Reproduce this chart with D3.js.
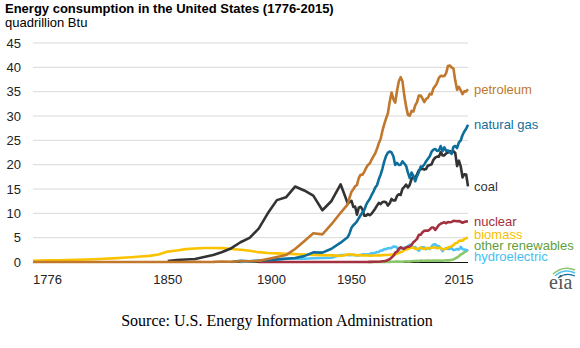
<!DOCTYPE html>
<html>
<head>
<meta charset="utf-8">
<script src="https://cdn.jsdelivr.net/npm/d3@7"></script>
<style>
  body { margin: 0; background: #fff; }
  svg { display: block; }
</style>
</head>
<body>
<svg id="chart" width="580" height="348"></svg>
<script>
// years: five-year steps to 1945, then annual from 1949
const YEARS = [
  1776, 1780, 1785, 1790, 1795, 1800, 1805, 1810, 1815, 1820, 1825, 1830, 1835, 1840, 1845,
  1850, 1855, 1860, 1865, 1870, 1875, 1880, 1885, 1890, 1895,
  1900, 1905, 1910, 1915, 1920, 1925, 1930, 1935, 1940, 1945,
  1949, 1950, 1951, 1952, 1953, 1954, 1955, 1956, 1957, 1958, 1959,
  1960, 1961, 1962, 1963, 1964, 1965, 1966, 1967, 1968, 1969,
  1970, 1971, 1972, 1973, 1974, 1975, 1976, 1977, 1978, 1979,
  1980, 1981, 1982, 1983, 1984, 1985, 1986, 1987, 1988, 1989,
  1990, 1991, 1992, 1993, 1994, 1995, 1996, 1997, 1998, 1999,
  2000, 2001, 2002, 2003, 2004, 2005, 2006, 2007, 2008, 2009,
  2010, 2011, 2012, 2013, 2014, 2015
];

const PETROLEUM = [
  0, 0, 0, 0, 0, 0, 0, 0, 0, 0, 0, 0, 0, 0, 0,
  0, 0, 0.003, 0.02, 0.011, 0.02, 0.096, 0.04, 0.156, 0.168,
  0.229, 0.61, 1.007, 1.418, 2.676, 4.28, 5.897, 5.675, 7.76, 10.11,
  11.88, 13.32, 14.43, 14.96, 15.56, 15.84, 17.26, 17.94, 17.93, 18.53, 19.32,
  19.92, 20.22, 21.0, 21.7, 22.3, 23.25, 24.4, 25.28, 26.98, 28.34,
  29.52, 30.56, 32.95, 34.84, 33.46, 32.73, 35.18, 37.12, 37.97, 37.12,
  34.2, 31.93, 30.23, 30.05, 31.05, 30.92, 32.2, 32.87, 34.22, 34.21,
  33.55, 32.85, 33.53, 33.74, 34.56, 34.44, 35.68, 36.16, 36.82, 37.84,
  38.26, 38.19, 38.22, 38.81, 40.29, 40.39, 39.96, 39.77, 37.28, 35.4,
  36.01, 35.28, 34.49, 35.09, 35.06, 35.5
];

const NATURAL_GAS = [
  null, null, null, null, null, null, null, null, null, null, null, null, null, null, null,
  null, null, null, null, null, null, null, 0, 0.257, 0.147,
  0.252, 0.372, 0.54, 0.673, 0.827, 1.212, 1.969, 1.919, 2.726, 3.973,
  5.15, 5.97, 7.05, 7.55, 7.91, 8.33, 9.0, 9.61, 10.19, 10.66, 11.72,
  12.39, 12.93, 13.73, 14.4, 15.29, 15.77, 17.0, 17.95, 19.21, 20.68,
  21.8, 22.47, 22.7, 22.51, 21.73, 19.95, 20.35, 19.93, 20.0, 20.67,
  20.24, 19.75, 18.36, 17.22, 18.39, 17.7, 16.59, 17.64, 18.45, 19.6,
  19.6, 20.03, 20.71, 21.23, 21.73, 22.67, 23.09, 23.22, 22.83, 22.91,
  23.82, 22.77, 23.56, 22.83, 22.91, 22.56, 22.22, 23.66, 23.84, 23.42,
  24.58, 24.96, 26.09, 26.81, 27.38, 28.19
];

const COAL = [
  null, null, null, null, null, null, null, null, null, null, null, null, null, null, null,
  0.219, 0.421, 0.518, 0.632, 1.048, 1.44, 2.054, 2.84, 4.062, 4.95,
  6.841, 10.001, 12.714, 13.294, 15.504, 14.706, 13.639, 10.634, 12.535, 15.972,
  11.98, 12.35, 12.55, 11.31, 11.37, 9.71, 11.17, 11.35, 10.82, 9.53, 9.52,
  9.84, 9.62, 9.91, 10.41, 10.96, 11.58, 12.14, 11.91, 12.33, 12.38,
  12.27, 11.6, 12.08, 12.97, 12.66, 12.66, 13.58, 13.92, 13.77, 15.04,
  15.42, 15.91, 15.32, 15.89, 17.07, 17.48, 17.26, 18.01, 18.85, 19.07,
  19.17, 18.99, 19.12, 19.84, 19.91, 20.09, 21.0, 21.45, 21.66, 21.62,
  22.58, 21.91, 21.9, 22.32, 22.47, 22.8, 22.45, 22.75, 22.39, 19.69,
  20.83, 19.66, 17.38, 18.04, 17.99, 15.55
];

const NUCLEAR = [
  null, null, null, null, null, null, null, null, null, null, null, null, null, null, null,
  null, null, null, null, null, null, null, null, null, null,
  0, 0, 0, 0, 0, 0, 0, 0, 0, 0,
  0, 0, 0, 0, 0, 0, 0, 0, 0, 0.002, 0.002,
  0.006, 0.02, 0.026, 0.038, 0.04, 0.043, 0.064, 0.088, 0.142, 0.154,
  0.239, 0.413, 0.584, 0.91, 1.272, 1.9, 2.111, 2.702, 3.024, 2.776,
  2.739, 3.008, 3.131, 3.203, 3.553, 4.076, 4.38, 4.754, 5.587, 5.602,
  6.104, 6.422, 6.479, 6.41, 6.694, 7.075, 7.087, 6.597, 7.068, 7.61,
  7.862, 8.029, 8.145, 7.96, 8.222, 8.161, 8.215, 8.455, 8.427, 8.356,
  8.434, 8.269, 8.062, 8.244, 8.338, 8.337
];

const BIOMASS = [
  0.249, 0.3, 0.33, 0.37, 0.41, 0.45, 0.52, 0.58, 0.67, 0.75, 0.86, 0.97, 1.12, 1.26, 1.55,
  2.14, 2.36, 2.64, 2.76, 2.89, 2.87, 2.85, 2.68, 2.52, 2.31,
  2.02, 1.84, 1.77, 1.69, 1.61, 1.53, 1.46, 1.4, 1.36, 1.26,
  1.549, 1.562, 1.535, 1.474, 1.419, 1.394, 1.424, 1.416, 1.334, 1.323, 1.353,
  1.32, 1.295, 1.3, 1.323, 1.337, 1.335, 1.369, 1.34, 1.419, 1.44,
  1.431, 1.432, 1.503, 1.529, 1.54, 1.499, 1.713, 1.838, 2.038, 2.152,
  2.476, 2.596, 2.663, 2.904, 2.971, 2.94, 2.692, 2.71, 2.742, 3.032,
  2.735, 2.681, 2.846, 2.771, 2.85, 2.93, 2.998, 2.988, 2.835, 2.886,
  2.907, 2.606, 2.628, 2.735, 2.983, 3.104, 3.213, 3.474, 3.849, 3.908,
  4.332, 4.43, 4.375, 4.718, 4.928, 4.983
];

const OTHER_RENEWABLES = [
  null, null, null, null, null, null, null, null, null, null, null, null, null, null, null,
  null, null, null, null, null, null, null, null, null, null,
  null, null, null, null, null, null, null, null, null, null,
  null, null, null, null, null, null, null, null, null, null, null,
  0.001, 0.002, 0.002, 0.003, 0.004, 0.004, 0.004, 0.007, 0.009, 0.013,
  0.011, 0.012, 0.031, 0.043, 0.053, 0.07, 0.078, 0.077, 0.064, 0.084,
  0.11, 0.123, 0.105, 0.129, 0.165, 0.198, 0.219, 0.229, 0.217, 0.317,
  0.259, 0.268, 0.277, 0.29, 0.287, 0.255, 0.278, 0.287, 0.278, 0.297,
  0.284, 0.266, 0.318, 0.328, 0.332, 0.359, 0.445, 0.517, 0.727, 0.925,
  1.178, 1.538, 1.725, 2.006, 2.195, 2.5
];

const HYDROELECTRIC = [
  null, null, null, null, null, null, null, null, null, null, null, null, null, null, null,
  null, null, null, null, null, null, null, null, 0.022, 0.09,
  0.25, 0.386, 0.539, 0.659, 0.738, 0.668, 0.785, 0.831, 0.88, 1.442,
  1.425, 1.415, 1.424, 1.466, 1.413, 1.36, 1.36, 1.435, 1.516, 1.592, 1.548,
  1.608, 1.656, 1.816, 1.771, 1.886, 2.059, 2.062, 2.347, 2.349, 2.648,
  2.634, 2.824, 2.864, 2.861, 3.177, 3.155, 2.976, 2.333, 2.937, 2.931,
  2.9, 2.758, 3.266, 3.527, 3.386, 2.97, 3.071, 2.635, 2.334, 2.837,
  3.046, 3.016, 2.617, 2.892, 2.683, 3.205, 3.59, 3.64, 3.297, 3.268,
  2.811, 2.242, 2.689, 2.825, 2.69, 2.703, 2.869, 2.446, 2.511, 2.669,
  2.539, 3.103, 2.629, 2.562, 2.467, 2.321
];

const Y_TICKS = [0, 5, 10, 15, 20, 25, 30, 35, 40, 45];
const X_TICK_LABELS = ["1776", "1850", "1900", "1950", "2015"];
// year each axis label is centred on
const X_TICK_AT = [1784, 1850, 1907, 1951, 2010];

// drawn bottom to top
const SERIES = [
  { name: "other renewables", values: OTHER_RENEWABLES, line: "#8cc66b", text: "#5e9f3c" },
  { name: "hydroelectric", values: HYDROELECTRIC, line: "#4fc3f3", text: "#45bff0" },
  { name: "biomass", values: BIOMASS, line: "#fbc200", text: "#f7bf00" },
  { name: "nuclear", values: NUCLEAR, line: "#a3303e", text: "#a3303e" },
  { name: "coal", values: COAL, line: "#333333", text: "#333333" },
  { name: "natural gas", values: NATURAL_GAS, line: "#0d6e9b", text: "#136f9b" },
  { name: "petroleum", values: PETROLEUM, line: "#c1782c", text: "#c1782c" },
];

const font = "'Liberation Sans', Arial, sans-serif";
const svg = d3.select("#chart");

const x = d3.scaleLinear().domain([1776, 2015]).range([33, 468]);
const y = d3.scaleLinear().domain([0, 45]).range([262, 43]);

svg.append("text")
  .attr("x", 5).attr("y", 13)
  .style("font", `bold 13px ${font}`)
  .attr("fill", "#000")
  .text("Energy consumption in the United States (1776-2015)");

svg.append("text")
  .attr("x", 5).attr("y", 27)
  .style("font", `13px ${font}`)
  .attr("fill", "#000")
  .text("quadrillion Btu");

// horizontal gridlines
svg.append("g")
  .selectAll("line")
  .data(Y_TICKS.filter((d) => d > 0))
  .join("line")
  .attr("x1", x(1776)).attr("x2", x(2015))
  .attr("y1", (d) => y(d)).attr("y2", (d) => y(d))
  .attr("stroke", "#d9d9d9")
  .attr("stroke-width", 1);

const yAxis = svg.append("g")
  .attr("transform", "translate(21,0)")
  .call(d3.axisLeft(y).tickValues(Y_TICKS).tickSize(0).tickPadding(0));
yAxis.select(".domain").remove();
yAxis.selectAll("text")
  .style("font", `13px ${font}`)
  .attr("fill", "#222");

// zero line
svg.append("line")
  .attr("x1", x(1776)).attr("x2", x(2015))
  .attr("y1", y(0) + 0.5).attr("y2", y(0) + 0.5)
  .attr("stroke", "#111")
  .attr("stroke-width", 1);

svg.append("g")
  .selectAll("text")
  .data(X_TICK_LABELS)
  .join("text")
  .attr("x", (d, i) => x(X_TICK_AT[i]))
  .attr("y", 284)
  .attr("text-anchor", "middle")
  .style("font", `13px ${font}`)
  .attr("fill", "#222")
  .text((d) => d);

const line = d3.line()
  .defined((d) => d.v != null)
  .x((d) => x(d.year))
  .y((d) => y(d.v));

svg.append("g")
  .selectAll("path")
  .data(SERIES)
  .join("path")
  .attr("d", (s) => line(YEARS.map((year, i) => ({ year, v: s.values[i] }))))
  .attr("fill", "none")
  .attr("stroke", (s) => s.line)
  .attr("stroke-width", 2.6)
  .attr("stroke-linejoin", "round");

// end labels, spread apart so they don't collide
const labels = SERIES.map((s) => ({ ...s, ly: y(s.values[s.values.length - 1]) }))
  .sort((a, b) => a.ly - b.ly);
const gap = 11;
for (let i = 1; i < labels.length; i++) {
  labels[i].ly = Math.max(labels[i].ly, labels[i - 1].ly + gap);
}
labels[labels.length - 1].ly = Math.min(labels[labels.length - 1].ly, y(0) - 6);
for (let i = labels.length - 2; i >= 0; i--) {
  labels[i].ly = Math.min(labels[i].ly, labels[i + 1].ly - gap);
}

svg.append("g")
  .selectAll("text")
  .data(labels)
  .join("text")
  .attr("x", x(2015) + 6)
  .attr("y", (d) => d.ly)
  .attr("dy", "0.35em")
  .style("font", `13px ${font}`)
  .attr("fill", (d) => d.text)
  .text((d) => d.name);

// eia mark
const logo = svg.append("g").attr("transform", "translate(549,266)");
logo.append("path")
  .attr("d", "M4,8 Q14,-1 26,4")
  .attr("fill", "none").attr("stroke", "#8cc66b").attr("stroke-width", 1.6);
logo.append("path")
  .attr("d", "M6,10 Q15,2 26,7")
  .attr("fill", "none").attr("stroke", "#4fc3f3").attr("stroke-width", 1.4);
logo.append("path")
  .attr("d", "M9,12 Q17,6 26,10")
  .attr("fill", "none").attr("stroke", "#0d6e9b").attr("stroke-width", 1.2);
logo.append("text")
  .attr("x", 0).attr("y", 23)
  .style("font", "20px 'Liberation Serif', 'Times New Roman', serif")
  .attr("fill", "#555")
  .text("eia");

svg.append("text")
  .attr("x", 277).attr("y", 326)
  .attr("text-anchor", "middle")
  .style("font", "16px 'Liberation Serif', 'Times New Roman', serif")
  .attr("fill", "#000")
  .text("Source: U.S. Energy Information Administration");
</script>
</body>
</html>
